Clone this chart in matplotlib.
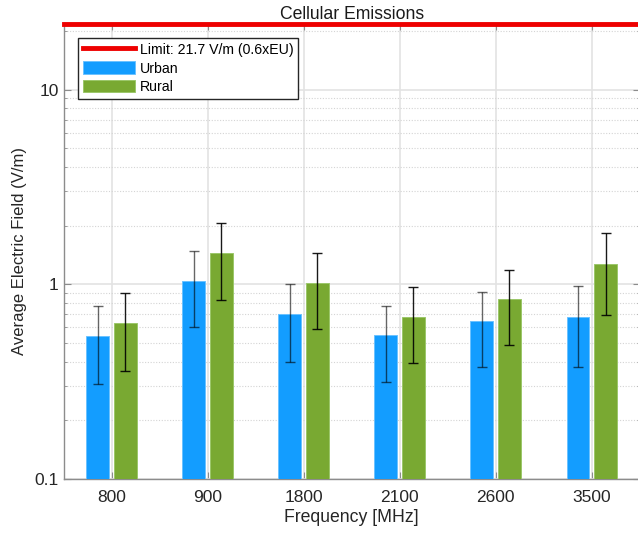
import numpy as np
import matplotlib
matplotlib.use('Agg')
import matplotlib.pyplot as plt
from matplotlib.ticker import LogLocator, NullFormatter, FixedLocator

plt.rcParams['font.family'] = ['Liberation Sans', 'DejaVu Sans']

# 数据
freqs = ['800', '900', '1800', '2100', '2600', '3500']
urban = [0.54, 1.04, 0.70, 0.545, 0.643, 0.674]
urban_err = [0.235, 0.44, 0.30, 0.23, 0.27, 0.30]
rural = [0.628, 1.44, 1.015, 0.679, 0.837, 1.262]
rural_err = [0.27, 0.615, 0.43, 0.285, 0.35, 0.565]
limit = 21.7

c_urban = '#139dff'
c_rural = '#79a932'

fig = plt.figure(figsize=(6.38, 5.37), dpi=100)
ax = fig.add_axes([63.5 / 638, 58.3 / 537, 576.2 / 638, 455.8 / 537])

x = np.arange(1, len(freqs) + 1)
off = 0.144
w = 0.236

# 限值线
ln = ax.axhline(limit, color='#ee0000', linewidth=3.5, zorder=5, clip_on=False,
                label='Limit: 21.7 V/m (0.6xEU)')
b1 = ax.bar(x - off, urban, w, color=c_urban, edgecolor='#6cc2ff', linewidth=0.7, zorder=3, label='Urban')
b2 = ax.bar(x + off, rural, w, color=c_rural, edgecolor='#9cc76a', linewidth=0.7, zorder=3, label='Rural')
ax.errorbar(x - off, urban, yerr=urban_err, fmt='none', ecolor='k', elinewidth=1.0,
            capsize=3.6, capthick=1.0, alpha=0.6, zorder=4)
ax.errorbar(x + off, rural, yerr=rural_err, fmt='none', ecolor='k', elinewidth=1.0,
            capsize=3.6, capthick=1.0, alpha=0.9, zorder=4)

ax.set_yscale('log')
ax.set_ylim(0.1, 22)
ax.set_xlim(0.5, 6.5)
ax.set_xticks(x)
ax.set_xticklabels(freqs)
ax.yaxis.set_major_locator(FixedLocator([0.1, 1, 10]))
ax.set_yticklabels(['0.1', '1', '10'])
ax.yaxis.set_minor_locator(LogLocator(base=10, subs=np.arange(2, 10)))
ax.yaxis.set_minor_formatter(NullFormatter())

ax.grid(True, which='major', color='#e3e3e3', linewidth=1.2, zorder=0)
ax.grid(True, which='minor', axis='y', color='#d4d4d4', linewidth=0.8, linestyle=(0, (1, 1.5)), zorder=0)
ax.set_axisbelow(True)

for s in ax.spines.values():
    s.set_color('#8c8c8c')
    s.set_linewidth(1.0)
ax.tick_params(which='both', direction='in', top=True, right=True, colors='#8c8c8c',
               labelcolor='#262626', labelsize=12.5)
ax.tick_params(which='major', length=5)
ax.tick_params(which='minor', length=2.5)
ax.tick_params(axis='x', pad=8)

ax.set_title('Cellular Emissions', fontsize=12.7, color='#1a1a1a', pad=2)
ax.set_xlabel('Frequency [MHz]', fontsize=12.7, color='#262626', labelpad=3)
ax.set_ylabel('Average Electric Field (V/m)', fontsize=12, color='#262626', labelpad=5)

leg = ax.legend([ln, b1, b2], ['Limit: 21.7 V/m (0.6xEU)', 'Urban', 'Rural'], loc='upper left',
                bbox_to_anchor=(0.025, 0.967), fontsize=10.2, handlelength=3.7,
                handleheight=1.0, fancybox=False, framealpha=1, borderpad=0.35,
                labelspacing=0.3, handletextpad=0.3, borderaxespad=0)
leg.get_frame().set_edgecolor('#262626')
leg.get_frame().set_linewidth(1.0)

plt.savefig('out.png', dpi=100)
